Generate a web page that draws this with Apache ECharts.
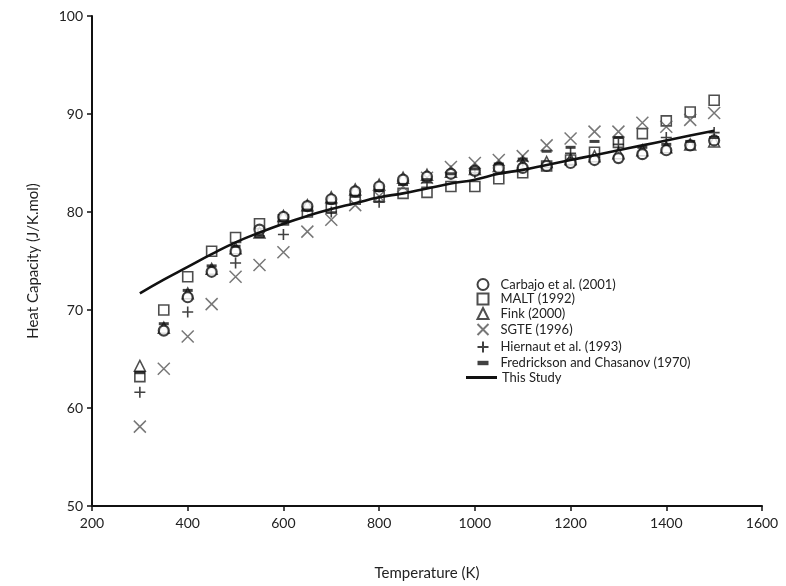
<!DOCTYPE html>
<html><head><meta charset="utf-8">
<script src="https://cdn.jsdelivr.net/npm/echarts@6/dist/echarts.min.js"></script>
<style>html,body{margin:0;padding:0;background:#fff}#c{width:786px;height:586px}</style>
</head><body><div id="c"></div>
<script>
// Temperatures (K)
const temps = [300,350,400,450,500,550,600,650,700,750,800,850,900,950,1000,1050,1100,1150,1200,1250,1300,1350,1400,1450,1500];
const carbajoT = [350,400,450,500,550,600,650,700,750,800,850,900,950,1000,1050,1100,1150,1200,1250,1300,1350,1400,1450,1500];
const carbajo = [67.9,71.3,73.9,76.0,78.2,79.5,80.6,81.3,82.1,82.6,83.3,83.6,83.9,84.2,84.5,84.5,84.7,85.0,85.3,85.5,85.9,86.3,86.8,87.3];
const malt = [63.2,70.0,73.4,76.0,77.4,78.8,79.2,80.0,80.4,81.3,81.6,81.9,82.0,82.6,82.6,83.4,84.0,84.7,85.3,86.1,87.1,88.0,89.3,90.2,91.4];
const fink = [64.3,68.2,71.7,74.2,76.3,77.9,79.6,80.7,81.5,82.3,82.8,83.5,83.8,84.1,84.4,84.7,84.9,85.1,85.4,85.7,86.0,86.3,86.6,86.9,87.2];
const sgte = [58.1,64.0,67.3,70.6,73.4,74.6,75.9,78.0,79.2,80.7,81.6,82.6,83.5,84.6,85.0,85.3,85.7,86.8,87.5,88.2,88.2,89.1,88.7,89.4,90.1];
const hiernautT = [300,400,500,600,700,800,900,1000,1100,1200,1300,1400,1500];
const hiernaut = [61.6,69.8,74.8,77.7,80.0,81.0,83.0,84.0,85.2,86.0,86.9,87.6,88.1];
const fredrickson = [63.6,68.6,72.0,74.5,76.5,77.5,79.1,80.2,80.9,81.6,82.2,82.8,83.3,83.9,84.4,84.9,85.4,86.2,86.6,87.2,87.6,86.6,86.9,87.2,87.6];
const thisStudy = [71.7,73.1,74.4,75.7,76.9,77.9,78.8,79.6,80.3,80.9,81.5,81.9,82.4,82.9,83.3,83.9,84.3,84.8,85.3,85.8,86.3,86.8,87.3,87.8,88.3];
const xTicks = {min:200, max:1600, interval:200};
const yTicks = {min:50, max:100, interval:10};
const names = ['Carbajo et al. (2001)','MALT (1992)','Fink (2000)','SGTE (1996)','Hiernaut et al. (1993)','Fredrickson and Chasanov (1970)','This Study'];

const zip = (xs, ys) => xs.map((x,i)=>[x, ys[i]]);
const FONT = 'Lato, "Open Sans", sans-serif';
const hollow = (c,w)=>({color:'#fff', borderColor:c, borderWidth:w});
const XPATH = 'path://M0,0L10,10M10,0L0,10';
const PLUS = 'path://M5,0L5,10M0,5L10,5';
const DASH = 'path://M0,0M10,10M0,3L10,3L10,7L0,7Z';
const chart = echarts.init(document.getElementById('c'), null, {renderer:'canvas'});
chart.setOption({
  animation:false,
  backgroundColor:'#fff',
  grid:{left:92, right:24, top:16, bottom:80},
  xAxis:{type:'value', min:xTicks.min, max:xTicks.max, interval:xTicks.interval,
    name:'Temperature (K)', nameLocation:'middle', nameGap:60,
    nameTextStyle:{fontFamily:FONT, fontSize:15, color:'#222'},
    axisLine:{lineStyle:{color:'#111', width:2}},
    axisTick:{show:true, length:5, lineStyle:{color:'#111', width:1.5}},
    axisLabel:{fontFamily:FONT, fontSize:14, color:'#222', margin:10, formatter:v=>String(v)},
    splitLine:{show:false}},
  yAxis:{type:'value', min:yTicks.min, max:yTicks.max, interval:yTicks.interval,
    name:'Heat Capacity (J/K.mol)', nameLocation:'middle', nameGap:51,
    nameTextStyle:{fontFamily:FONT, fontSize:15, color:'#222'},
    axisLine:{show:true, lineStyle:{color:'#111', width:2}},
    axisTick:{show:true, length:5, lineStyle:{color:'#111', width:1.5}},
    axisLabel:{fontFamily:FONT, fontSize:14, color:'#222', margin:9, formatter:v=>String(v)},
    splitLine:{show:false}},
  legend:[
    {orient:'vertical', left:470, top:273, itemGap:1.5, itemWidth:11, itemHeight:11,
     textStyle:{fontFamily:FONT, fontSize:13, color:'#222', padding:[0,0,0,7]},
     data:[
       {name:names[0], icon:'circle'},
       {name:names[1], icon:'rect'},
       {name:names[2], icon:'triangle'},
       {name:names[3], icon:XPATH},
       {name:names[4], icon:PLUS},
       {name:names[5], icon:DASH}
     ]},
    {orient:'vertical', left:461, top:366, itemWidth:31, itemHeight:3,
     textStyle:{fontFamily:FONT, fontSize:13, color:'#222', padding:[0,0,0,0]},
     data:[{name:names[6], icon:'rect', itemStyle:{color:'#111'}}]}
  ],
  series:[
    {name:names[0], type:'scatter', symbol:'circle', symbolSize:10, data:zip(carbajoT,carbajo), itemStyle:hollow('#111',2.2), z:3},
    {name:names[1], type:'scatter', symbol:'rect', symbolSize:10, data:zip(temps,malt), itemStyle:hollow('#222',1.6), z:2},
    {name:names[2], type:'scatter', symbol:'triangle', symbolSize:11, data:zip(temps,fink), itemStyle:hollow('#222',1.5), z:2},
    {name:names[3], type:'scatter', symbol:XPATH, symbolSize:12, data:zip(temps,sgte), itemStyle:{color:'none', borderColor:'#555', borderWidth:1.5}, z:2},
    {name:names[4], type:'scatter', symbol:PLUS, symbolSize:11, data:zip(hiernautT,hiernaut), itemStyle:{color:'none', borderColor:'#111', borderWidth:1.6}, z:2},
    {name:names[5], type:'scatter', symbol:'rect', symbolSize:[10,3], data:zip(temps,fredrickson), itemStyle:{color:'#111'}, z:4},
    {name:names[6], type:'line', showSymbol:false, symbol:'none', smooth:true, data:zip(temps,thisStudy), lineStyle:{color:'#111', width:2.6}, itemStyle:{color:'#111'}, z:5}
  ]
});
</script></body></html>
